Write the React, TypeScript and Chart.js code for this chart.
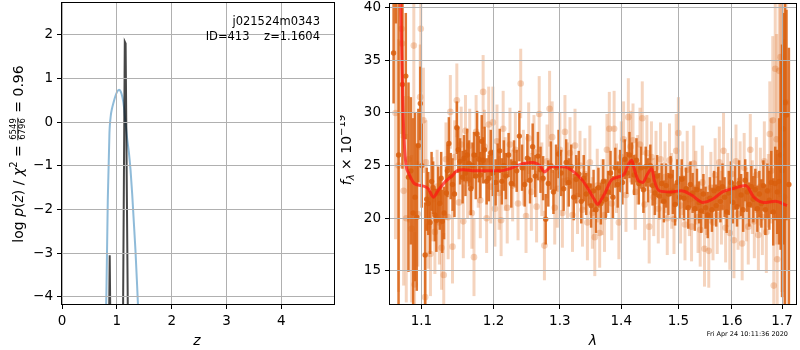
import React, { useEffect, useRef } from 'react';
import { Chart, registerables } from 'chart.js';

Chart.register(...registerables);

// ---------------- left panel data ----------------
const pzZ = [0.79, 0.81, 0.835, 0.865, 0.89, 0.91, 0.94, 0.97, 1.0, 1.04, 1.07, 1.1, 1.13, 1.16, 1.19, 1.22, 1.25, 1.28, 1.31, 1.34, 1.37, 1.4];
const pzLog = [-5.0, -3.9, -1.78, -0.26, 0.15, 0.3, 0.45, 0.58, 0.68, 0.74, 0.7, 0.58, 0.35, -0.05, -0.4, -0.7, -1.1, -1.65, -2.3, -2.95, -3.75, -4.6];
const chiZ = [0.855, 0.87, 0.885, 1.11, 1.145, 1.16, 1.205];
const chiLog = [-5.0, -3.05, -5.0, -5.0, 1.84, 1.8, -5.0];
const leftXTicks = [0, 1, 2, 3, 4];
const leftYTicks = [-4, -3, -2, -1, 0, 1, 2];
const fieldName = 'j021524m0343';
const idLine = 'ID=413    z=1.1604';

// ---------------- right panel data ----------------
const rightXTicks = [1.1, 1.2, 1.3, 1.4, 1.5, 1.6, 1.7];
const rightYTicks = [15, 20, 25, 30, 35, 40];
const dateText = 'Fri Apr 24 10:11:36 2020';

const darkWave = [
  1.0636, 1.0665, 1.07, 1.075, 1.0794, 1.0829, 1.086, 1.089, 1.0915, 1.0938,
  1.0959, 1.0985, 1.1004, 1.1049, 1.107, 1.1091, 1.1115, 1.1135, 1.1156, 1.118,
  1.12, 1.1225, 1.1246, 1.1265, 1.128, 1.1305, 1.1335, 1.135, 1.137, 1.1395,
  1.142, 1.1447, 1.148, 1.15, 1.1525, 1.156, 1.158, 1.16, 1.1624, 1.165,
  1.1675, 1.17, 1.172, 1.1745, 1.1764, 1.179, 1.181, 1.183, 1.185, 1.187,
  1.19, 1.1932, 1.196, 1.199,
  1.203, 1.206, 1.209, 1.212, 1.215, 1.218, 1.222, 1.226, 1.23, 1.234,
  1.238, 1.242, 1.246, 1.25, 1.254, 1.258, 1.262, 1.266, 1.27, 1.274,
  1.278, 1.282, 1.286, 1.29, 1.294, 1.298, 1.302, 1.306, 1.31, 1.314,
  1.318, 1.322, 1.326, 1.33, 1.334, 1.338, 1.342, 1.346, 1.35, 1.354,
  1.358, 1.362, 1.366, 1.37, 1.374, 1.378, 1.382, 1.386, 1.39, 1.394,
  1.398, 1.402, 1.406, 1.41, 1.414, 1.418, 1.422, 1.426, 1.43, 1.434,
  1.438, 1.442, 1.446, 1.45, 1.454, 1.458, 1.462, 1.466, 1.47, 1.474,
  1.478, 1.482, 1.486, 1.49, 1.494, 1.498, 1.502, 1.506, 1.51, 1.514,
  1.518, 1.522, 1.526, 1.53, 1.534, 1.538, 1.542, 1.546, 1.55, 1.554,
  1.558, 1.562, 1.566, 1.57, 1.574, 1.578, 1.582, 1.586, 1.59, 1.594,
  1.598, 1.602, 1.606, 1.61, 1.614, 1.618, 1.622, 1.626, 1.63, 1.634,
  1.638, 1.642, 1.646, 1.65, 1.654, 1.658, 1.662, 1.666, 1.67, 1.674,
  1.678, 1.682, 1.686,
  1.69, 1.694, 1.697, 1.7, 1.703, 1.706, 1.709, 1.714,
];
const darkFlux = [
  35.7, 43.0, 26.0, 32.7, 33.5, 23.9, 24.5, 20.5, 22.0, 20.1,
  26.9, 30.9, 25.0, 16.5, 21.8, 21.4, 19.6, 23.5, 22.9, 20.3,
  19.8, 22.4, 21.4, 23.8, 19.7, 20.5, 22.4, 24.5, 27.1, 24.0,
  23.2, 22.3, 28.6, 26.5, 25.4, 23.9, 25.7, 24.3, 26.0, 25.2,
  22.8, 25.0, 26.0, 24.0, 28.0, 25.6, 24.1, 27.3, 25.5, 26.5,
  23.5, 23.8, 26.2, 24.3,
  23.4, 24.8, 26.4, 23.5, 25.0, 24.0, 26.0, 23.3, 25.2, 24.5,
  27.8, 24.8, 23.2, 25.7, 23.6, 26.8, 24.0, 25.9, 24.6, 23.8,
  19.9, 23.3, 25.0, 22.5, 24.8, 26.1, 24.3, 22.8, 25.3, 23.4,
  24.9, 22.0, 23.7, 24.2, 21.6, 23.8, 22.3, 23.1, 21.2, 22.6,
  20.8, 22.9, 21.4, 23.5, 21.8, 22.5, 24.3, 22.0, 24.8, 23.2,
  24.5, 23.4, 25.6, 24.3, 26.0, 25.2, 24.1, 25.5, 23.3, 24.8,
  22.7, 24.9, 23.6, 25.0, 23.1, 22.4, 24.0, 22.1, 23.3, 21.6,
  23.1, 22.3, 24.0, 22.5, 21.3, 23.4, 22.0, 23.7, 21.9, 22.8,
  21.0, 23.2, 22.4, 20.9, 22.7, 21.5, 20.7, 22.3, 21.0, 20.3,
  21.9, 20.8, 22.6, 21.2, 22.8, 21.6, 23.0, 22.0, 20.6, 22.4,
  23.4, 21.5, 22.9, 21.1, 23.3, 22.2, 20.8, 23.6, 22.5, 21.3,
  23.0, 21.8, 22.7, 20.9, 22.3, 21.4, 23.1, 20.8, 22.6, 21.7,
  23.4, 20.6, 23.3,
  22.5, 23.5, 26.0, 24.5, 28.5, 31.0, 29.8, 23.2,
];
const darkErr = [
  4.8, 4.5, 15.0, 8.0, 6.0, 9.0, 7.0, 9.0, 8.0, 7.0,
  3.5, 3.5, 4.0, 5.0, 3.0, 3.0, 3.0, 2.8, 2.5, 2.5,
  3.0, 2.5, 2.5, 2.5, 3.0, 2.5, 2.5, 2.5, 2.5, 2.2,
  2.5, 2.2, 2.5, 2.2, 2.2, 2.5, 2.2, 2.2, 2.5, 2.2,
  2.5, 2.2, 2.2, 2.2, 2.2, 2.2, 2.2, 2.5, 2.2, 2.2,
  2.2, 2.2, 2.2, 2.2,
  2.2, 2.3, 2.1, 2.2, 2.4, 2.2, 2.1, 2.3, 2.2, 2.0,
  2.4, 2.2, 2.1, 2.3, 2.2, 2.2, 2.0, 2.3, 2.2, 2.1,
  2.4, 2.2, 2.3, 2.1, 2.2, 2.3, 2.2, 2.1, 2.2, 2.3,
  2.1, 2.2, 2.3, 2.2, 2.1, 2.2,
  2.0, 1.9, 2.1, 2.0, 2.2, 1.9, 2.0, 2.1, 1.9, 2.0,
  2.1, 2.0, 1.9, 2.2, 2.0, 2.1, 1.9, 2.0, 2.2, 2.0,
  1.9, 2.1, 2.0, 2.0, 2.2, 1.9, 2.1, 2.0, 1.9, 2.1,
  2.0, 2.2, 1.9, 2.0, 2.1, 2.0, 1.9, 2.1, 2.0, 2.2,
  2.0, 1.9, 2.1, 2.0, 2.0, 2.2, 1.9, 2.1, 2.0, 2.0,
  2.1, 1.9, 2.0, 2.2, 2.0, 2.1, 1.9, 2.0, 2.1, 2.0,
  2.2, 1.9, 2.0, 2.1, 2.0, 2.0, 2.1, 1.9, 2.2, 2.0,
  2.1, 2.0, 1.9, 2.1, 2.0, 2.2, 2.0,
  2.2, 2.2, 2.3, 2.4, 2.4, 2.6, 2.8, 3.0, 3.2, 3.5,
  4.0, 6.0, 9.0, 12.0, 11.0, 20.0, 10.0, 13.0,
];

const lightWave = [
  1.066, 1.07, 1.0739, 1.0745, 1.0766, 1.08, 1.083, 1.087, 1.0899, 1.0909,
  1.0952, 1.0983, 1.0991, 1.1026, 1.1049,
  1.106, 1.109, 1.112, 1.115, 1.118, 1.121, 1.124, 1.127, 1.13, 1.133,
  1.136, 1.139, 1.142, 1.145, 1.148, 1.151, 1.154, 1.157, 1.16, 1.163,
  1.166, 1.169, 1.172, 1.175, 1.178, 1.181, 1.185, 1.187, 1.19, 1.193,
  1.196, 1.199, 1.202, 1.205, 1.208, 1.211, 1.214, 1.217, 1.22,
  1.224, 1.228, 1.232, 1.236, 1.24, 1.244, 1.248, 1.252, 1.256, 1.26,
  1.264, 1.268, 1.272, 1.276, 1.28, 1.284, 1.288, 1.292, 1.296, 1.3,
  1.304, 1.308, 1.312, 1.316, 1.32, 1.324, 1.328, 1.332, 1.336, 1.34,
  1.344, 1.348, 1.352, 1.356, 1.36, 1.364, 1.368, 1.372, 1.376, 1.38,
  1.384, 1.388, 1.392, 1.396, 1.4, 1.404, 1.408, 1.412, 1.416, 1.42,
  1.424, 1.428, 1.432, 1.436, 1.44, 1.444, 1.448, 1.452, 1.456, 1.46,
  1.464, 1.468, 1.472, 1.476, 1.48, 1.484, 1.488, 1.492, 1.496, 1.5,
  1.504, 1.508, 1.512, 1.516, 1.52, 1.524, 1.528, 1.532, 1.536, 1.54,
  1.544, 1.548, 1.552, 1.556, 1.56, 1.564, 1.568, 1.572, 1.576, 1.58,
  1.584, 1.588, 1.592, 1.596, 1.6, 1.604, 1.608, 1.612, 1.616, 1.62,
  1.624, 1.628, 1.632, 1.636, 1.64, 1.644, 1.648, 1.652, 1.656, 1.66,
  1.664, 1.668,
  1.672, 1.675, 1.678, 1.681, 1.683, 1.686, 1.689, 1.69, 1.694, 1.697,
  1.7, 1.704, 1.708,
];
const lightFlux = [
  30.0, 25.0, 38.0, 36.6, 22.6, 20.0, 25.6, 19.0, 36.4, 13.7,
  20.4, 31.5, 38.0, 29.3, 12.5,
  25.3, 19.2, 16.6, 21.8, 18.7, 23.0, 19.6, 17.2, 14.6, 25.6,
  20.1, 30.1, 17.3, 25.8, 31.2, 21.5, 27.0, 19.7, 28.3, 23.6,
  26.9, 20.5, 16.3, 28.2, 24.4, 21.7, 32.0, 26.8, 20.0, 28.9,
  23.0, 29.1, 20.9, 27.3, 22.4, 19.8, 28.5, 24.2, 21.0,
  27.0, 23.1, 26.5, 21.4, 32.8, 24.8, 20.2, 27.6, 22.5, 26.3,
  21.1, 29.9, 23.7, 17.4, 25.4, 30.4, 27.7, 21.0, 22.8, 26.5,
  20.5, 28.2, 23.6, 26.2, 20.3, 26.9, 22.1, 25.0, 20.8, 24.2,
  19.6, 25.3, 20.5, 18.2, 23.1, 18.6, 22.0, 20.3, 26.5, 28.5,
  21.4, 28.5, 23.8, 19.6, 25.8, 27.5, 22.2, 29.6, 26.8, 27.4,
  22.5, 24.6, 27.0, 29.5, 21.3, 26.2, 19.2, 25.8, 22.0, 24.8,
  20.9, 25.6, 21.7, 23.9, 20.0, 25.5, 22.6, 19.9, 26.4, 28.1,
  21.2, 23.8, 19.4, 24.6, 21.8, 19.2, 25.2, 22.9, 20.1, 18.9,
  23.4, 17.1, 21.7, 16.9, 22.9, 19.6, 24.1, 20.3, 25.3, 21.0,
  26.4, 19.1, 22.7, 18.6, 24.2, 17.9, 25.4, 20.4, 23.6, 17.6,
  24.8, 21.3, 19.2, 26.5, 22.0, 19.7, 24.1, 18.4, 23.0, 20.1,
  25.4, 18.7,
  22.6, 28.0, 24.5, 29.3, 13.6, 34.2, 27.5, 16.1, 34.0, 35.3,
  27.0, 22.0, 31.0,
];
const lightErr = [
  12, 12, 10, 9, 9, 8, 6, 7, 7, 5,
  5, 5, 6, 5, 4,
  4, 4, 4, 4, 4, 3.5, 4, 4, 4, 3.5,
  4, 3.5, 3.5, 3.5, 3.5, 3.5, 3.6, 3.5, 3.4, 3.6,
  3.5, 3.4, 3.7, 3.5, 3.4, 3.6, 3.5, 3.5, 3.3, 3.6,
  3.5, 3.4, 3.6, 3.5, 3.5, 3.4, 3.6, 3.5, 3.4,
  3.5, 3.4, 3.6, 3.5, 3.3, 3.6, 3.5, 3.4, 3.7, 3.5,
  3.4, 3.6, 3.5, 3.3, 3.5, 3.6, 3.4, 3.5, 3.7, 3.5,
  3.3, 3.5, 3.6, 3.4, 3.5, 3.5, 3.6, 3.3, 3.5, 3.4,
  3.6, 3.5, 3.4, 3.7, 3.5, 3.3, 3.6, 3.5, 3.4, 3.5,
  3.5, 3.6, 3.3, 3.5, 3.4, 3.6, 3.5, 3.7, 3.4, 3.5,
  3.6, 3.3, 3.5, 3.5, 3.4, 3.6, 3.5, 3.4, 3.7, 3.5,
  3.3, 3.5, 3.6, 3.4, 3.5, 3.5, 3.6, 3.3, 3.5, 3.4,
  3.6, 3.5, 3.4, 3.7, 3.5, 3.3, 3.6, 3.5, 3.4, 3.5,
  3.5, 3.6, 3.3, 3.5, 3.4, 3.6, 3.5, 3.7, 3.4, 3.5,
  3.6, 3.3, 3.5, 3.5, 3.4, 3.6, 3.5, 3.4, 3.7, 3.5,
  3.3, 3.5, 3.6, 3.4, 3.5, 3.5, 3.6, 3.4, 3.7, 3.6,
  3.8, 3.9,
  3.5, 5.0, 5.0, 8.0, 8.0, 9.0, 10.0, 10.0, 12.0, 13.0,
  14.0, 15.0, 16.0,
];

const modelWave = [
  1.0715, 1.0735, 1.0755, 1.0775, 1.08, 1.083, 1.0905, 1.1, 1.109, 1.116,
  1.122, 1.131, 1.141, 1.148, 1.157, 1.173, 1.192, 1.209, 1.224, 1.244,
  1.259, 1.269, 1.276, 1.287, 1.307, 1.32, 1.336, 1.347, 1.355, 1.361,
  1.366, 1.372, 1.383, 1.394, 1.405, 1.413, 1.418, 1.421, 1.429, 1.437,
  1.445, 1.4526, 1.457, 1.466, 1.486, 1.505, 1.524, 1.545, 1.563, 1.582,
  1.601, 1.627, 1.643, 1.663, 1.686, 1.71,
];
const modelFlux = [
  45, 38, 31, 27, 24.9, 24.3, 23.3, 23.1, 22.8, 22.0,
  22.6, 23.4, 24.0, 24.5, 24.6, 24.5, 24.5, 24.5, 24.7, 25.2,
  25.3, 25.0, 24.4, 24.9, 24.9, 24.5, 23.6, 22.6, 21.8, 21.3,
  21.7, 22.3, 23.6, 23.9, 24.2, 25.2, 25.5, 24.9, 23.6, 23.4,
  24.2, 24.7, 23.6, 22.6, 22.5, 22.6, 22.2, 21.5, 21.8, 22.5,
  22.8, 23.1, 22.0, 21.5, 21.6, 21.2,
];

// ---------------- helpers ----------------
const FONT = "'DejaVu Sans', sans-serif";
const ORANGE_DARK = 'rgba(217,95,14,0.85)';
const ORANGE_LIGHT = 'rgba(217,95,14,0.27)';

type Seg = { t?: string; font: string; dy?: number; num?: string; den?: string };

function drawRich(ctx: CanvasRenderingContext2D, segs: Seg[], cx: number, cy: number, vertical: boolean) {
  ctx.save();
  ctx.translate(cx, cy);
  if (vertical) ctx.rotate(-Math.PI / 2);
  ctx.fillStyle = '#000';
  ctx.textBaseline = 'alphabetic';
  ctx.textAlign = 'left';
  const ws = segs.map((s) => {
    ctx.font = s.font;
    if (s.num !== undefined) {
      return Math.max(ctx.measureText(s.num).width, ctx.measureText(s.den || '').width) + 2;
    }
    return ctx.measureText(s.t || '').width;
  });
  const total = ws.reduce((a, b) => a + b, 0);
  let x = -total / 2;
  segs.forEach((s, i) => {
    ctx.font = s.font;
    if (s.num !== undefined) {
      const w = ws[i];
      ctx.textAlign = 'center';
      ctx.fillText(s.num, x + w / 2, -6.6);
      ctx.fillText(s.den || '', x + w / 2, 1.8);
      ctx.fillRect(x + 0.5, -5.6, w - 1, 0.8);
      ctx.textAlign = 'left';
    } else {
      ctx.fillText(s.t || '', x, s.dy || 0);
    }
    x += ws[i];
  });
  ctx.restore();
}

const framePlugin = {
  id: 'frame',
  afterDraw(chart: any) {
    const { ctx, chartArea: a } = chart;
    ctx.save();
    ctx.strokeStyle = '#000';
    ctx.lineWidth = 1;
    ctx.strokeRect(Math.round(a.left) - 0.5, Math.round(a.top) - 0.5, Math.round(a.right - a.left) + 1, Math.round(a.bottom - a.top) + 1);
    ctx.restore();
  },
};

const gridOpts = { color: '#b0b0b0', lineWidth: 1, tickColor: '#000', tickLength: 5, drawTicks: true, offset: false, z: 1 };
const borderOpts = { display: false };
const tickFont = { family: FONT, size: 13.5 };
const fmtNum = (v: number) => (v < 0 ? '\u2212' + Math.abs(v) : String(v));
const fixX = (h: number) => (s: any) => { s.height = h; s.paddingLeft = 0; s.paddingRight = 0; s.paddingTop = 0; s.paddingBottom = 0; };
const fixY = (w: number) => (s: any) => { s.width = w; s.paddingLeft = 0; s.paddingRight = 0; s.paddingTop = 0; s.paddingBottom = 0; };

export default function App() {
  const leftRef = useRef<HTMLCanvasElement>(null);
  const rightRef = useRef<HTMLCanvasElement>(null);

  useEffect(() => {
    Chart.defaults.font.family = FONT;
    Chart.defaults.color = '#000';

    const leftText = {
      id: 'leftText',
      afterDraw(chart: any) {
        const ctx = chart.ctx as CanvasRenderingContext2D;
        const n = '14px ' + FONT;
        const it = 'italic 14px ' + FONT;
        drawRich(ctx, [
          { t: 'log ', font: n },
          { t: 'p', font: it },
          { t: '(', font: n },
          { t: 'z', font: it },
          { t: ') / ', font: n },
          { t: '\u03c7', font: it },
          { t: '2', font: '10px ' + FONT, dy: -6 },
          { t: ' = ', font: n },
          { num: '6549', den: '6796', font: '8.5px ' + FONT },
          { t: ' = 0.96', font: n },
        ], 23, 154, true);
        drawRich(ctx, [{ t: 'z', font: it }], 197, 345, false);
        ctx.save();
        ctx.fillStyle = '#000';
        ctx.font = '11.5px ' + FONT;
        ctx.textAlign = 'right';
        ctx.textBaseline = 'alphabetic';
        ctx.fillText(fieldName, 320, 24.5);
        ctx.fillText(idLine, 320, 40);
        ctx.restore();
      },
    };

    const rightText = {
      id: 'rightText',
      afterDraw(chart: any) {
        const ctx = chart.ctx as CanvasRenderingContext2D;
        const n = '14px ' + FONT;
        const it = 'italic 14px ' + FONT;
        drawRich(ctx, [
          { t: 'f', font: it },
          { t: '\u03bb', font: 'italic 10px ' + FONT, dy: 3 },
          { t: ' \u00d7 10', font: n },
          { t: '\u221219', font: '10px ' + FONT, dy: -6 },
        ], 11, 150, true);
        drawRich(ctx, [{ t: '\u03bb', font: it }], 253, 345, false);
        ctx.save();
        ctx.fillStyle = '#000';
        ctx.font = '6.5px ' + FONT;
        ctx.textAlign = 'right';
        ctx.textBaseline = 'alphabetic';
        ctx.fillText(dateText, 448, 336);
        ctx.restore();
      },
    };

    const left = new Chart(leftRef.current as HTMLCanvasElement, {
      type: 'line',
      data: {
        datasets: [
          {
            data: pzZ.map((z, i) => ({ x: z, y: pzLog[i] })),
            borderColor: 'rgba(31,119,180,0.5)',
            borderWidth: 2,
            pointRadius: 0,
            cubicInterpolationMode: 'monotone',
            clip: 0,
            order: 2,
          } as any,
          {
            data: chiZ.map((z, i) => ({ x: z, y: chiLog[i] })),
            borderColor: 'rgba(0,0,0,0.72)',
            borderWidth: 2,
            pointRadius: 0,
            tension: 0,
            clip: 0,
            order: 1,
          } as any,
        ],
      },
      options: {
        responsive: false,
        animation: false,
        layout: { padding: { left: 0, right: 6, top: 3, bottom: 0 } },
        plugins: { legend: { display: false }, tooltip: { enabled: false } },
        scales: {
          x: {
            type: 'linear',
            min: 0,
            max: 4.96,
            bounds: 'data',
            afterBuildTicks: (s: any) => { s.ticks = leftXTicks.map((v) => ({ value: v })); },
            afterFit: fixX(46),
            grid: gridOpts,
            border: borderOpts,
            ticks: { font: tickFont, color: '#000', padding: 4, maxRotation: 0, autoSkip: false, callback: (v: any) => fmtNum(Number(v)) },
          },
          y: {
            type: 'linear',
            min: -4.167,
            max: 2.727,
            bounds: 'data',
            afterBuildTicks: (s: any) => { s.ticks = leftYTicks.map((v) => ({ value: v })); },
            afterFit: fixY(62),
            grid: gridOpts,
            border: borderOpts,
            ticks: { font: tickFont, color: '#000', padding: 4, autoSkip: false, callback: (v: any) => fmtNum(Number(v)) },
          },
        },
      } as any,
      plugins: [framePlugin, leftText],
    });

    const nD = Math.min(darkWave.length, darkFlux.length, darkErr.length);
    const nL = Math.min(lightWave.length, lightFlux.length, lightErr.length);
    const darkBars = [] as any[];
    const darkPts = [] as any[];
    for (let i = 0; i < nD; i++) {
      darkBars.push({ x: darkWave[i], y: [darkFlux[i] - darkErr[i], darkFlux[i] + darkErr[i]] });
      darkPts.push({ x: darkWave[i], y: darkFlux[i] });
    }
    const lightBars = [] as any[];
    const lightPts = [] as any[];
    for (let i = 0; i < nL; i++) {
      lightBars.push({ x: lightWave[i], y: [lightFlux[i] - lightErr[i], lightFlux[i] + lightErr[i]] });
      lightPts.push({ x: lightWave[i], y: lightFlux[i] });
    }

    const right = new Chart(rightRef.current as HTMLCanvasElement, {
      type: 'scatter',
      data: {
        datasets: [
          { type: 'bar', data: lightBars, backgroundColor: ORANGE_LIGHT, borderWidth: 0, barThickness: 3, stack: 'e', inflateAmount: 0, clip: 0, order: 5 } as any,
          { type: 'scatter', data: lightPts, backgroundColor: ORANGE_LIGHT, pointBackgroundColor: ORANGE_LIGHT, pointBorderWidth: 0, pointRadius: 3.3, clip: 0, order: 4 } as any,
          { type: 'bar', data: darkBars, backgroundColor: ORANGE_DARK, borderWidth: 0, barThickness: 2.5, stack: 'e', inflateAmount: 0, clip: 0, order: 3 } as any,
          { type: 'scatter', data: darkPts, backgroundColor: ORANGE_DARK, pointBackgroundColor: ORANGE_DARK, pointBorderWidth: 0, pointRadius: 2.7, clip: 0, order: 2 } as any,
          {
            type: 'line',
            data: modelWave.map((w, i) => ({ x: w, y: modelFlux[i] })),
            borderColor: 'rgba(255,20,20,0.7)',
            borderWidth: 3,
            pointRadius: 0,
            showLine: true,
            cubicInterpolationMode: 'monotone',
            clip: 0,
            order: 1,
          } as any,
        ],
      },
      options: {
        responsive: false,
        animation: false,
        layout: { padding: { left: 0, right: 1, top: 3, bottom: 0 } },
        plugins: { legend: { display: false }, tooltip: { enabled: false } },
        scales: {
          x: {
            type: 'logarithmic',
            min: 1.059,
            max: 1.7288,
            bounds: 'data',
            offset: false,
            afterBuildTicks: (s: any) => { s.ticks = rightXTicks.map((v) => ({ value: v })); },
            afterFit: fixX(46),
            grid: gridOpts,
            border: borderOpts,
            ticks: { font: tickFont, color: '#000', padding: 4, maxRotation: 0, autoSkip: false, callback: (v: any) => Number(v).toFixed(1) },
          },
          y: {
            type: 'linear',
            min: 11.85,
            max: 40.35,
            bounds: 'data',
            stacked: false,
            afterBuildTicks: (s: any) => { s.ticks = rightYTicks.map((v) => ({ value: v })); },
            afterFit: fixY(50),
            grid: gridOpts,
            border: borderOpts,
            ticks: { font: tickFont, color: '#000', padding: 4, autoSkip: false, callback: (v: any) => String(v) },
          },
        },
      } as any,
      plugins: [framePlugin, rightText],
    });

    return () => {
      left.destroy();
      right.destroy();
    };
  }, []);

  return (
    <div style={{ position: 'absolute', left: 0, top: 0, width: 800, height: 350, background: '#fff' }}>
      <canvas ref={leftRef} width={340} height={350} style={{ position: 'absolute', left: 0, top: 0, width: 340, height: 350 }} />
      <canvas ref={rightRef} width={460} height={350} style={{ position: 'absolute', left: 340, top: 0, width: 460, height: 350 }} />
    </div>
  );
}
